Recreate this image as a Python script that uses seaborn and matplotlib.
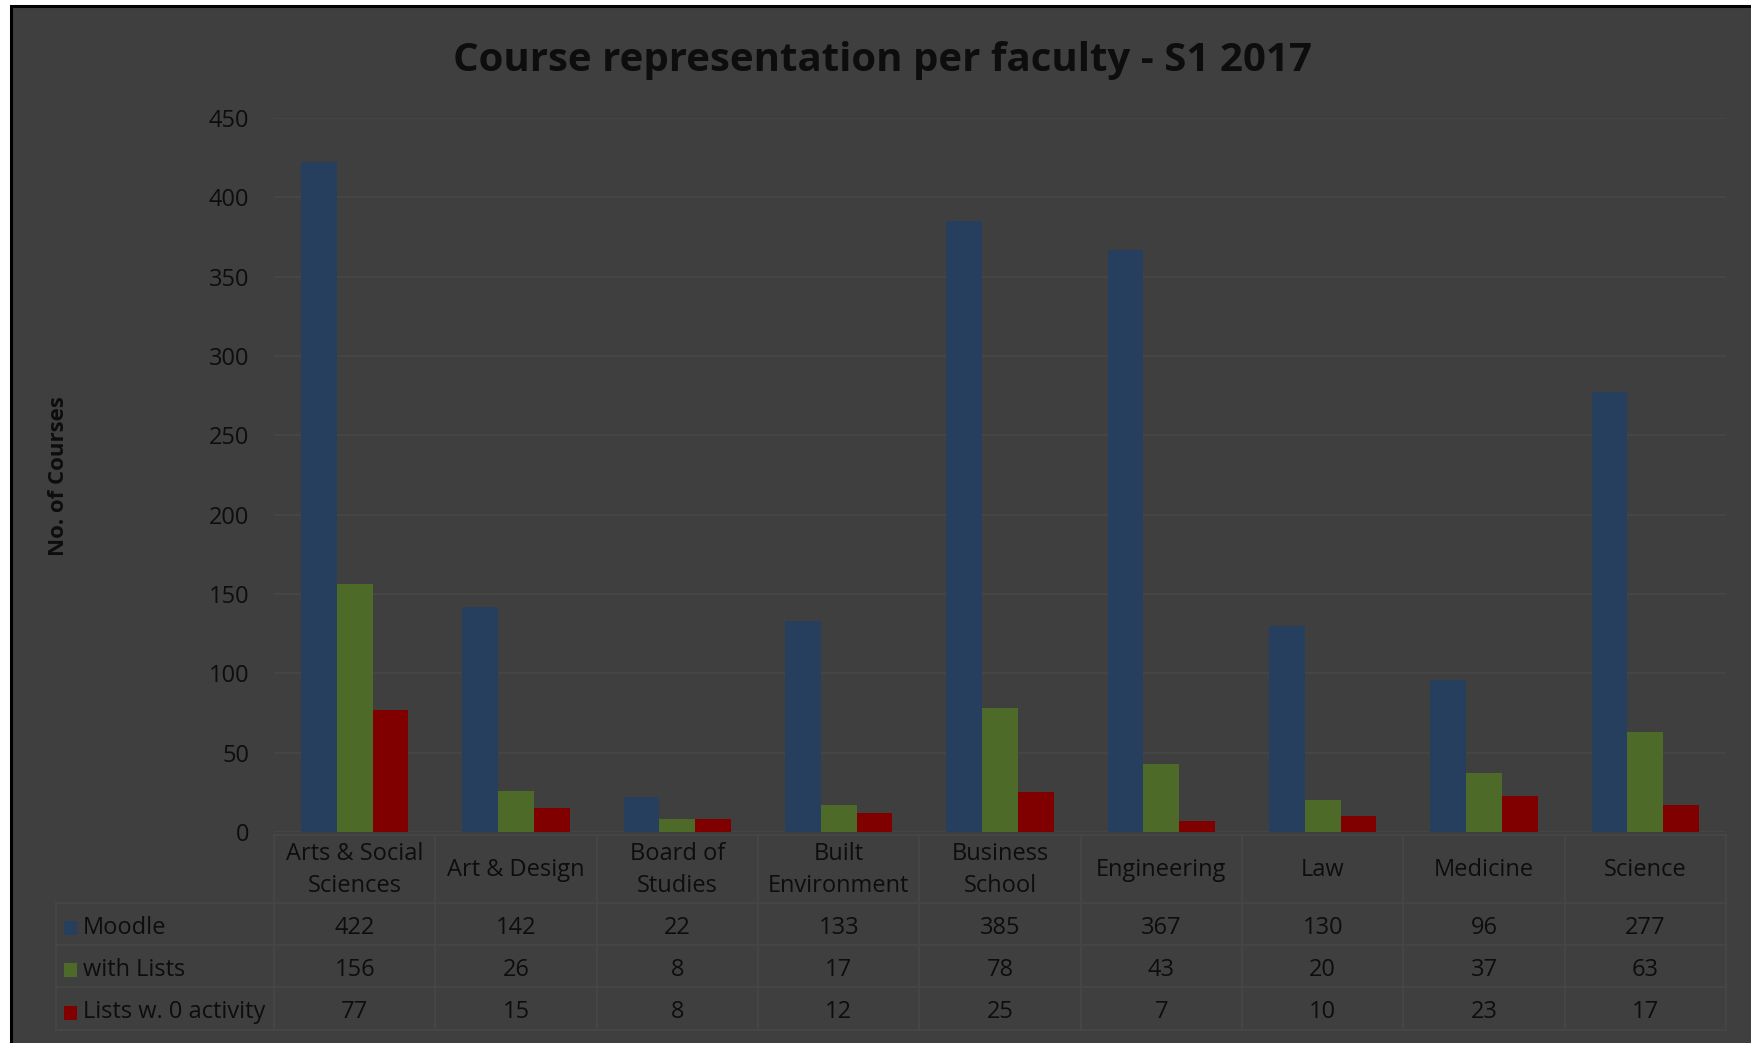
import matplotlib
matplotlib.use("Agg")
import matplotlib.pyplot as plt
from matplotlib.patches import Rectangle
import seaborn as sns
import pandas as pd

categories = ["Arts & Social\nSciences", "Art & Design", "Board of\nStudies", "Built\nEnvironment",
              "Business\nSchool", "Engineering", "Law", "Medicine", "Science"]
series_names = ["Moodle", "with Lists", "Lists w. 0 activity"]
moodle = [422, 142, 22, 133, 385, 367, 130, 96, 277]
with_lists = [156, 26, 8, 17, 78, 43, 20, 37, 63]
zero_activity = [77, 15, 8, 12, 25, 7, 10, 23, 17]
yticks = [0, 50, 100, 150, 200, 250, 300, 350, 400, 450]

colors = ["#263f5f", "#4e6a29", "#800000"]
BG = "#3f3f3f"
TXT = "#0d0d0d"
GRID = "#474747"

sns.set_theme(style="white")
plt.rcParams['font.family'] = ['Open Sans', 'DejaVu Sans']

values = [moodle, with_lists, zero_activity]
rows = []
for s, vals in zip(series_names, values):
    for c, v in zip(categories, vals):
        rows.append({"Faculty": c, "Series": s, "Count": v})
df = pd.DataFrame(rows)

W, H = 1751, 1043
fig = plt.figure(figsize=(W / 100, H / 100), dpi=100, facecolor="white")
# dark chart panel with black border
panel = Rectangle((11 / W, -0.01), 1.02, (H - 6) / H + 0.01, transform=fig.transFigure,
                  facecolor=BG, edgecolor="black", linewidth=2.2, zorder=-5)
fig.add_artist(panel)

left, right, top, bottom = 274, 1726, 118, 832
ax = fig.add_axes([left / W, (H - bottom) / H, (right - left) / W, (bottom - top) / H])
ax.set_zorder(2)
ax.set_facecolor(BG)

sns.barplot(data=df, x="Faculty", y="Count", hue="Series", palette=colors, width=0.665,
            saturation=1, ax=ax, legend=False, zorder=3)
for p in ax.patches:
    p.set_edgecolor("none")

ax.set_ylim(0, 450)
ax.set_xlim(-0.5, len(categories) - 0.5)
ax.set_yticks(yticks)
ax.set_yticklabels([str(t) for t in yticks], fontsize=17, color=TXT)
ax.tick_params(axis="y", length=0, pad=18)
ax.set_xticks([])
ax.set_xlabel("")
ax.set_ylabel("")
for sp in ax.spines.values():
    sp.set_visible(False)
ax.yaxis.grid(True, color=GRID, linewidth=1.2, zorder=0)
ax.set_axisbelow(True)

fig.text(882 / W, 1 - 60 / H, "Course representation per faculty - S1 2017", ha="center", va="center",
         fontsize=29, fontweight="bold", color=TXT, zorder=5)
fig.text(59 / W, 1 - 476 / H, "No. of Courses", rotation=90, ha="center", va="center",
         fontsize=16, fontweight="bold", color=TXT, zorder=5)

# data table
def fy(py):
    return 1 - py / H

def fx(px):
    return px / W

col_w = (right - left) / len(categories)
row_edges = [835, 903, 945, 987, 1030]
tab_left = 56
off = 4
for i, ye in enumerate(row_edges):
    x0 = left if i == 0 else tab_left
    fig.add_artist(plt.Line2D([fx(x0), fx(right)], [fy(ye), fy(ye)], color=GRID, linewidth=1.2, zorder=1))
for j in range(len(categories) + 1):
    xe = left + j * col_w
    fig.add_artist(plt.Line2D([fx(xe), fx(xe)], [fy(row_edges[0]), fy(row_edges[-1])], color=GRID,
                              linewidth=1.2, zorder=1))
fig.add_artist(plt.Line2D([fx(tab_left), fx(tab_left)], [fy(row_edges[1]), fy(row_edges[-1])], color=GRID,
                          linewidth=1.2, zorder=1))

for j, c in enumerate(categories):
    xc = fx(left + (j + 0.5) * col_w)
    fig.text(xc, fy((row_edges[0] + row_edges[1]) / 2 + 1), c, ha="center", va="center", fontsize=17,
             color=TXT, linespacing=1.45, zorder=5)
    for r, vals in enumerate(values):
        fig.text(xc, fy((row_edges[r + 1] + row_edges[r + 2]) / 2 + off), str(vals[j]), ha="center",
                 va="center", fontsize=17, color=TXT, zorder=5)

for r, (s, col) in enumerate(zip(series_names, colors)):
    yc = (row_edges[r + 1] + row_edges[r + 2]) / 2 + off
    fig.add_artist(Rectangle((fx(64), fy(yc + 7)), 13 / W, 14 / H, transform=fig.transFigure,
                             facecolor=col, edgecolor="none", zorder=5))
    fig.text(fx(83), fy(yc), s, ha="left", va="center", fontsize=17, color=TXT, zorder=5)

fig.savefig("out.png", dpi=100, facecolor="white")
